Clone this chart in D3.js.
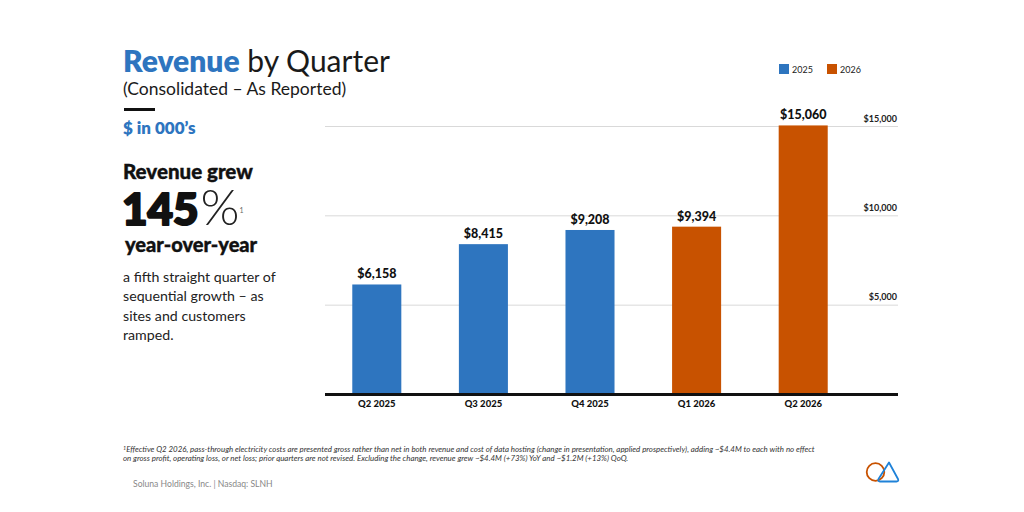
<!DOCTYPE html>
<html>
<head>
<meta charset="utf-8">
<script src="https://cdn.jsdelivr.net/npm/d3@7"></script>
<style>
  body { margin: 0; background: #fff; }
  text { font-family: Lato, "Open Sans", sans-serif; }
</style>
</head>
<body>
<div id="chart"></div>
<script>
var quarters = ["Q2 2025", "Q3 2025", "Q4 2025", "Q1 2026", "Q2 2026"];
var years = ["2025", "2025", "2025", "2026", "2026"];
var revenue = [6158, 8415, 9208, 9394, 15060];
var yTicks = [5000, 10000, 15000];
var legendYears = ["2025", "2026"];

var width = 1024;
var height = 512;
var blue = "#2e75bf";
var orange = "#c85200";
var color = d3.scaleOrdinal().domain(legendYears).range([blue, orange]);

var svg = d3.select("#chart").append("svg")
    .attr("width", width)
    .attr("height", height);

// left side text block
var title = svg.append("text").attr("x", 123).attr("y", 72).attr("font-size", 30);
title.append("tspan").attr("font-weight", 800).attr("fill", blue).text("Revenue");
title.append("tspan").attr("fill", "#1a1a1a").text(" by Quarter");

svg.append("text").attr("x", 123).attr("y", 95).attr("font-size", 17.5).attr("fill", "#1a1a1a")
    .text("(Consolidated \u2013 As Reported)");

svg.append("rect").attr("x", 124).attr("y", 108).attr("width", 31).attr("height", 3).attr("fill", "#111");

svg.append("text").attr("x", 123).attr("y", 134).attr("font-size", 17).attr("font-weight", 800)
    .attr("fill", blue).text("$ in 000\u2019s");

svg.append("text").attr("x", 123).attr("y", 179).attr("font-size", 20.5).attr("font-weight", 900)
    .attr("fill", "#111").attr("stroke", "#111").attr("stroke-width", 0.4).text("Revenue grew");

var big = svg.append("text").attr("x", 122).attr("y", 225).attr("fill", "#111");
big.append("tspan").attr("font-size", 44).attr("font-weight", 900)
    .attr("stroke", "#111").attr("stroke-width", 2.2).attr("stroke-linejoin", "round").text("145");
big.append("tspan").attr("dx", 2).attr("font-size", 50).attr("font-weight", 300).attr("fill", "#222").text("%");
big.append("tspan").attr("font-size", 7).attr("dy", -12).attr("fill", "#666").text("1");

svg.append("text").attr("x", 125).attr("y", 252).attr("font-size", 20).attr("font-weight", 900)
    .attr("fill", "#111").attr("stroke", "#111").attr("stroke-width", 0.4).text("year-over-year");

var body = ["a fifth straight quarter of", "sequential growth \u2013 as", "sites and customers", "ramped."];
svg.append("g").selectAll("text").data(body).enter().append("text")
    .attr("x", 123)
    .attr("y", function(d, i) { return 282 + i * 19.3; })
    .attr("font-size", 14.2)
    .attr("fill", "#222")
    .text(function(d) { return d; });

// chart
var x = d3.scaleBand().domain(quarters).range([323.5, 856.5]).paddingInner(0.54).paddingOuter(0.27);
var y = d3.scaleLinear().domain([0, 15000]).range([394.5, 126.5]);

var grid = svg.append("g");
grid.selectAll("line").data(yTicks).enter().append("line")
    .attr("x1", 325).attr("x2", 898)
    .attr("y1", function(d) { return y(d); })
    .attr("y2", function(d) { return y(d); })
    .attr("stroke", "#d9d9d9").attr("stroke-width", 1);
grid.selectAll("text").data(yTicks).enter().append("text")
    .attr("x", 897)
    .attr("y", function(d) { return y(d) - 5; })
    .attr("text-anchor", "end")
    .attr("font-size", 9)
    .attr("font-weight", 700)
    .attr("fill", "#222")
    .text(function(d) { return "$" + d3.format(",")(d); });

var bars = svg.append("g").selectAll("g").data(quarters).enter().append("g");
bars.append("rect")
    .attr("x", function(d) { return x(d); })
    .attr("width", x.bandwidth())
    .attr("y", function(d, i) { return y(revenue[i]); })
    .attr("height", function(d, i) { return y(0) - y(revenue[i]); })
    .attr("fill", function(d, i) { return color(years[i]); });
bars.append("text")
    .attr("x", function(d) { return x(d) + x.bandwidth() / 2; })
    .attr("y", function(d, i) { return y(revenue[i]) - 6; })
    .attr("text-anchor", "middle")
    .attr("font-size", 12.5)
    .attr("font-weight", 900)
    .attr("fill", "#111")
    .text(function(d, i) { return "$" + d3.format(",")(revenue[i]); });

svg.append("line").attr("x1", 325).attr("x2", 898).attr("y1", 394.5).attr("y2", 394.5)
    .attr("stroke", "#111").attr("stroke-width", 3);

svg.append("g").selectAll("text").data(quarters).enter().append("text")
    .attr("x", function(d) { return x(d) + x.bandwidth() / 2; })
    .attr("y", 407)
    .attr("text-anchor", "middle")
    .attr("font-size", 9.5)
    .attr("font-weight", 900)
    .attr("fill", "#111")
    .text(function(d) { return d; });

// legend
var legend = svg.append("g").selectAll("g").data(legendYears).enter().append("g")
    .attr("transform", function(d, i) { return "translate(" + (779 + i * 48) + ",64)"; });
legend.append("rect").attr("width", 10).attr("height", 10).attr("fill", function(d) { return color(d); });
legend.append("text").attr("x", 13).attr("y", 8.5).attr("font-size", 9).attr("fill", "#222")
    .text(function(d) { return d; });

// footnote
var foot = svg.append("g").attr("font-style", "italic").attr("font-size", 7.9).attr("fill", "#333");
var f1 = foot.append("text").attr("x", 123).attr("y", 452);
f1.append("tspan").attr("font-size", 5.5).attr("dy", -2.5).text("1");
f1.append("tspan").attr("dy", 2.5).text("Effective Q2 2026, pass-through electricity costs are presented gross rather than net in both revenue and cost of data hosting (change in presentation, applied prospectively), adding ~$4.4M to each with no effect");
foot.append("text").attr("x", 123).attr("y", 461)
    .text("on gross profit, operating loss, or net loss; prior quarters are not revised. Excluding the change, revenue grew ~$4.4M (+73%) YoY and ~$1.2M (+13%) QoQ.");

svg.append("text").attr("x", 133).attr("y", 487).attr("font-size", 8.6).attr("fill", "#888")
    .text("Soluna Holdings, Inc. | Nasdaq: SLNH");

// logo
var logo = svg.append("g").attr("fill", "none").attr("stroke-width", 1.8);
logo.append("circle").attr("cx", 875.5).attr("cy", 472).attr("r", 8.8).attr("stroke", orange);
logo.append("path").attr("d", "M889 462.5 L898 479 Q899 481.5 896.5 481.5 L880 481.5 Q877.5 481.5 878.5 479 Z")
    .attr("stroke", "#1f82d8").attr("stroke-linejoin", "round");
</script>
</body>
</html>
